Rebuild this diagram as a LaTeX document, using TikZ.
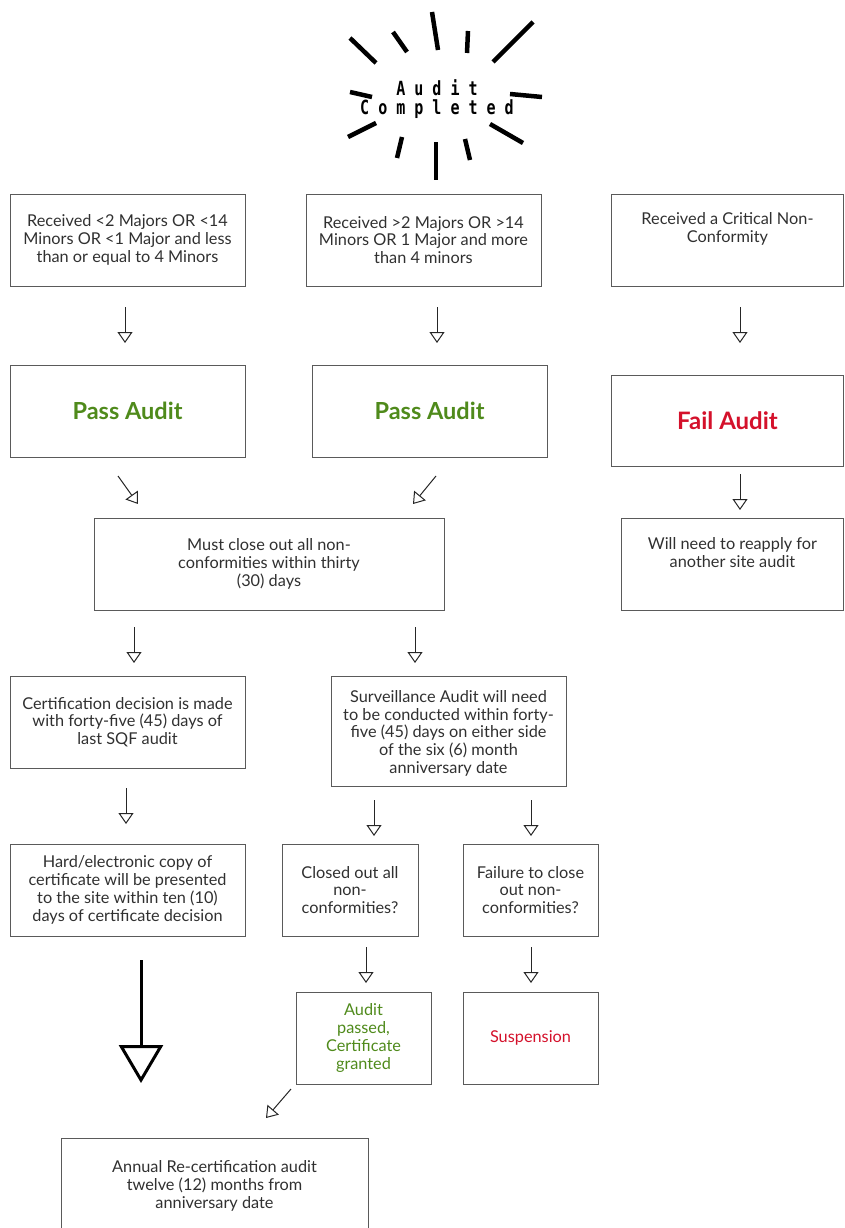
\documentclass[tikz,border=0pt]{standalone}
\usepackage{fontspec}
\setmainfont{Lato}
\newfontfamily\burstfont{DejaVu Sans Mono}
\usetikzlibrary{arrows.meta}
\definecolor{okgreen}{HTML}{4F8A1B}
\definecolor{badred}{HTML}{D4112B}
\definecolor{boxgray}{HTML}{5A5A5A}
\definecolor{txt}{HTML}{303030}
\tikzset{
  box/.style={draw=boxgray, line width=1pt, rectangle, align=center, inner sep=2pt,
    font=\fontsize{16.3}{17.8}\selectfont, text=txt},
  arr/.style={line width=1pt, black!85, -{Triangle[open,width=15pt,length=11pt,line width=1pt]}},
  bigarr/.style={line width=3pt, black, -{Triangle[open,width=44pt,length=38pt,line width=3pt]}},
  ray/.style={line width=4.5pt, black},
}
\begin{document}
\begin{tikzpicture}[x=1pt,y=-1pt]
\useasboundingbox (0,0) rectangle (844,1228);
% starburst
\draw[ray] (350,38) -- (376,63);
\draw[ray] (393,32) -- (407,52);
\draw[ray] (432,12) -- (438,50);
\draw[ray] (468,31) -- (467,53);
\draw[ray] (533,22) -- (493,62);
\draw[ray] (350,92) -- (372,97);
\draw[ray] (510,94) -- (542,97);
\draw[ray] (348,137) -- (376,123);
\draw[ray] (402,137) -- (397,158);
\draw[ray] (436,142) -- (436,180);
\draw[ray] (465,139) -- (470,160);
\draw[ray] (490,124) -- (523,143);
\node[align=center, font=\burstfont\bfseries\fontsize{15}{19}\selectfont, inner sep=0pt] (title) at (437,99)
  {\scalebox{1}[1.3]{A u d i t}\\\scalebox{1}[1.3]{C o m p l e t e d}};

% row 1
\node[box, minimum width=235pt, minimum height=92pt] (A) at (127.5,240) {Received <2 Majors OR <14\\Minors OR <1 Major and less\\than or equal to 4 Minors};
\node[box, minimum width=235pt, minimum height=92pt] (B) at (423.5,240) {Received >2 Majors OR >14\\Minors OR 1 Major and more\\than 4 minors};
\node[box, minimum width=232pt, minimum height=92pt] (C) at (727.5,240) {Received a Critical Non-\\Conformity\\[8pt]};

% row 2
\node[box, minimum width=235pt, minimum height=92pt] (PA) at (127.5,411) {\fontsize{23.5}{27}\selectfont\bfseries\color{okgreen}Pass Audit};
\node[box, minimum width=235pt, minimum height=92pt] (PB) at (429.5,411) {\fontsize{23.5}{27}\selectfont\bfseries\color{okgreen}Pass Audit};
\node[box, minimum width=232pt, minimum height=91pt] (F) at (727.5,420.5) {\fontsize{24}{28}\selectfont\bfseries\color{badred}Fail Audit};

% row 3
\node[box, minimum width=350pt, minimum height=92pt] (M) at (269,564) {Must close out all non-\\conformities within thirty\\(30) days};
\node[box, minimum width=222pt, minimum height=92pt] (W) at (732.5,564) {Will need to reapply for\\another site audit\\[6pt]};

% row 4
\node[box, minimum width=235pt, minimum height=92pt] (CD) at (127.5,722) {Certification decision is made\\with forty-five (45) days of\\last SQF audit};
\node[box, minimum width=235pt, minimum height=110pt, text depth=-2pt] (S) at (448.5,731) {\\[-4pt]Surveillance Audit will need\\to be conducted within forty-\\five (45) days on either side\\of the six (6) month\\anniversary date};

% row 5
\node[box, minimum width=235pt, minimum height=92pt] (H) at (127.5,890) {Hard/electronic copy of\\certificate will be presented\\to the site within ten (10)\\days of certificate decision};
\node[box, minimum width=136pt, minimum height=92pt] (CL) at (350,890) {Closed out all\\non-\\conformities?};
\node[box, minimum width=135pt, minimum height=92pt] (FC) at (530.5,890) {Failure to close\\out non-\\conformities?};

% row 6
\node[box, minimum width=135pt, minimum height=92pt, text=okgreen] (AP) at (363.5,1038) {Audit\\passed,\\Certificate\\granted};
\node[box, minimum width=135pt, minimum height=92pt, text=badred] (SU) at (530.5,1038) {Suspension};

% row 7
\node[box, minimum width=307pt, minimum height=96pt] (AN) at (214.5,1186) {Annual Re-certification audit\\twelve (12) months from\\anniversary date};

% arrow end points
\coordinate (a1s) at (125,307); \coordinate (a1e) at (125,343);
\coordinate (a2s) at (437,307); \coordinate (a2e) at (437,343);
\coordinate (a3s) at (740,307); \coordinate (a3e) at (740,343);
\coordinate (d1s) at (118,476); \coordinate (d1e) at (138,504);
\coordinate (d2s) at (436,476); \coordinate (d2e) at (413,504);
\coordinate (a4s) at (740,474); \coordinate (a4e) at (740,510);
\coordinate (a5s) at (134,627); \coordinate (a5e) at (134,663);
\coordinate (a6s) at (415,627); \coordinate (a6e) at (415,663);
\coordinate (a7s) at (126,788); \coordinate (a7e) at (126,824);
\coordinate (a8s) at (374,800); \coordinate (a8e) at (374,836);
\coordinate (a9s) at (531,800); \coordinate (a9e) at (531,836);
\coordinate (a10s) at (366,947); \coordinate (a10e) at (366,983);
\coordinate (a11s) at (531,947); \coordinate (a11e) at (531,983);
\coordinate (d3s) at (291,1089); \coordinate (d3e) at (266,1118);
\coordinate (bs) at (141,960); \coordinate (be) at (141,1083);

\draw[arr] (a1s) -- (a1e);
\draw[arr] (a2s) -- (a2e);
\draw[arr] (a3s) -- (a3e);
\draw[arr] (d1s) -- (d1e);
\draw[arr] (d2s) -- (d2e);
\draw[arr] (a4s) -- (a4e);
\draw[arr] (a5s) -- (a5e);
\draw[arr] (a6s) -- (a6e);
\draw[arr] (a7s) -- (a7e);
\draw[arr] (a8s) -- (a8e);
\draw[arr] (a9s) -- (a9e);
\draw[arr] (a10s) -- (a10e);
\draw[arr] (a11s) -- (a11e);
\draw[arr] (d3s) -- (d3e);
\draw[bigarr] (bs) -- (be);
\end{tikzpicture}
\end{document}
